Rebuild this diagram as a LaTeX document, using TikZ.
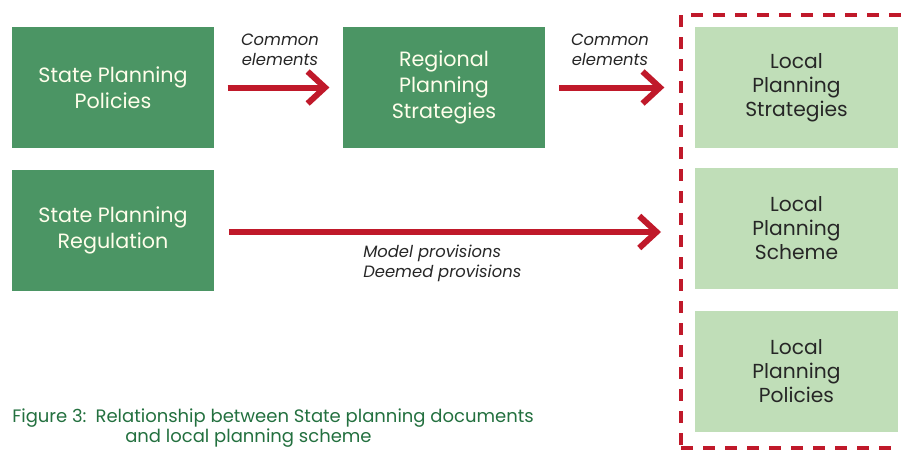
\documentclass[tikz,border=0pt]{standalone}
\usepackage{fontspec}
\setmainfont{Poppins}
\usetikzlibrary{arrows.meta}

\definecolor{verdeosc}{HTML}{4B9564}
\definecolor{verdecla}{HTML}{C0DEB8}
\definecolor{rojo}{HTML}{C0192A}
\definecolor{textoverde}{HTML}{23703F}

\tikzset{
    estatal/.style={fill=verdeosc, text=white!92!yellow, minimum width=151.5pt,
        minimum height=90.75pt, align=center, inner sep=0pt, font=\fontsize{15.5}{19.5}\selectfont},
    local/.style={fill=verdecla, text=black!85, minimum width=152pt,
        minimum height=90.75pt, align=center, inner sep=0pt, font=\fontsize{15.2}{18}\selectfont},
    flecha/.style={rojo, line width=4.5pt, -{Straight Barb[length=13pt, width=24pt]}},
    etiqueta/.style={font=\itshape\fontsize{12.3}{15}\selectfont, text=black!85, align=left, inner sep=0pt},
    pie/.style={anchor=base west, inner sep=0pt, text=textoverde, font=\fontsize{13.5}{16}\selectfont}
}

\begin{document}
\begin{tikzpicture}[x=0.75pt, y=-0.75pt]
\clip (0,0) rectangle (901,450);
\useasboundingbox (0,0) rectangle (901,450);

% Documentos estatales
\node[estatal] (spp) at (113,87.5) {State Planning\\Policies};
\node[estatal] (spr) at (113,230.5) {State Planning\\Regulation};
\node[estatal] (rps) at (444,87.5) {Regional\\Planning\\Strategies};

% Documentos locales
\foreach \y/\nombre/\texto in {87.5/lps/Strategies, 228.5/lpsch/Scheme, 371/lpp/Policies} {
    \node[local] (\nombre) at (796.5,\y) {Local\\Planning\\\texto};
}

% Marco discontinuo
\node[draw=rojo, line width=3pt, dash pattern=on 9pt off 7.5pt, inner sep=0pt,
    minimum width=250pt, minimum height=325pt, anchor=north west] (frame) at (679,13) {};

% Flechas
\draw[flecha, shorten <=10pt, shorten >=10pt] (spp.east) -- (rps.west);
\draw[flecha, shorten <=10.5pt, shorten >=11pt] (rps.east) -- (frame.west |- rps.west);
\draw[flecha, shorten <=11pt, shorten >=13.5pt] (spr.east |- 0,232) -- (frame.west |- 0,232);

\node[etiqueta, align=center] (com1) at (280,50) {Common\\elements};
\node[etiqueta, align=center] (com2) at (610,50) {Common\\elements};
\node[etiqueta, anchor=north west] (prov) at (363,245) {Model provisions\\Deemed provisions};

% Pie de figura
\node[pie] (fig) at (12,422) {Figure 3:\enspace Relationship between State planning documents};
\node[pie] (fig2) at (125,442) {and local planning scheme};
\end{tikzpicture}
\end{document}
